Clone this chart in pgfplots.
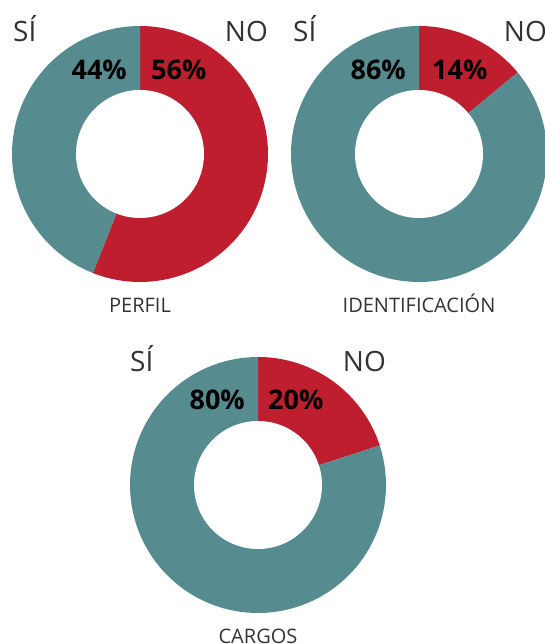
\documentclass[border=0pt]{standalone}
\usepackage{fontspec}
\setmainfont{Open Sans}
\usepackage{pgfplots}
\pgfplotsset{compat=1.18}
\definecolor{cno}{HTML}{BE1E2D}
\definecolor{csi}{HTML}{568B90}
\definecolor{ctxt}{HTML}{333333}
% values: NO percentage for each chart
\def\perfilno{56}
\def\identno{14}
\def\cargosno{20}
\pgfplotsset{donut/.style={scale only axis, width=256pt, height=256pt,
  xmin=-1, xmax=1, ymin=-1, ymax=1, hide axis, clip=false, anchor=center}}
\newcommand{\donut}[1]{%
  \addplot[fill=cno, draw=none, domain={90-3.6*#1}:90, samples=150] ({cos(x)},{sin(x)}) -- (0,0) -- cycle;
  \addplot[fill=csi, draw=none, domain=90:{450-3.6*#1}, samples=150] ({cos(x)},{sin(x)}) -- (0,0) -- cycle;
  \addplot[fill=white, draw=none, domain=0:360, samples=150] ({0.5*cos(x)},{0.5*sin(x)}) -- cycle;
}
\begin{document}
\begin{tikzpicture}[x=1pt,y=1pt]
\useasboundingbox (0,0) rectangle (545,644);
\begin{axis}[donut, at={(140pt,490pt)}]
\donut{\perfilno}
\end{axis}
\begin{axis}[donut, at={(419pt,490pt)}]
\donut{\identno}
\end{axis}
\begin{axis}[donut, at={(258pt,159pt)}]
\donut{\cargosno}
\end{axis}
\tikzset{lab/.style={inner sep=0pt, text=ctxt, font=\fontsize{28}{30}\selectfont},
  pct/.style={inner sep=0pt, text=black, font=\fontsize{27}{30}\selectfont\bfseries},
  cat/.style={inner sep=0pt, text=ctxt, font=\fontsize{20}{24}\selectfont, anchor=base}}
% top-left
\node[lab, anchor=base west] at (13,602) {SÍ};
\node[lab, anchor=base east] at (268,602) {NO};
\node[pct, anchor=base east] at (127,564) {44\%};
\node[pct, anchor=base west] at (151,564) {56\%};
\node[cat] at (140,331) {PERFIL};
% top-right
\node[lab, anchor=base west] at (293,602) {SÍ};
\node[lab, anchor=base east] at (547,602) {NO};
\node[pct, anchor=base east] at (406,564) {86\%};
\node[pct, anchor=base west] at (432,564) {14\%};
\node[cat] at (419,331) {IDENTIFICACIÓN};
% bottom
\node[lab, anchor=base west] at (130,272) {SÍ};
\node[lab, anchor=base east] at (386,272) {NO};
\node[pct, anchor=base east] at (245,234) {80\%};
\node[pct, anchor=base west] at (268,234) {20\%};
\node[cat] at (258,1) {CARGOS};
\end{tikzpicture}
\end{document}
